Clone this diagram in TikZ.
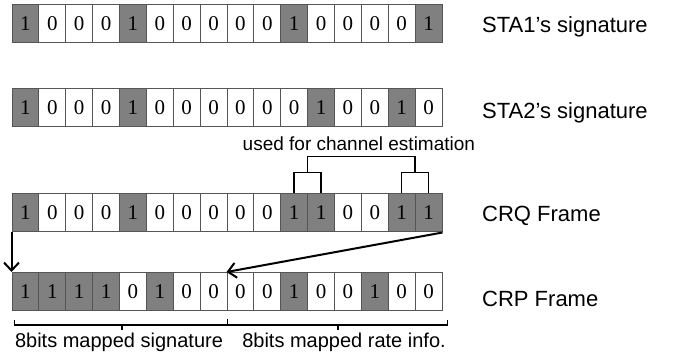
\documentclass[tikz,border=0pt]{standalone}
\usepackage{fontspec}
\setmainfont{Liberation Sans}
\newfontfamily\bitfont{Liberation Serif}
\usetikzlibrary{positioning,arrows.meta}

\definecolor{bitgray}{RGB}{128,128,128}
\definecolor{edgegray}{RGB}{85,85,85}

\tikzset{
  bit/.style={draw=edgegray, line width=1pt, minimum width=26.875pt,
    minimum height=38pt, inner sep=0pt, font=\bitfont\fontsize{21}{21}\selectfont},
  bit1/.style={bit, fill=bitgray},
  bit0/.style={bit, fill=white},
  lbl/.style={font=\fontsize{22}{24}\selectfont, inner sep=0pt, anchor=base west},
  note/.style={font=\fontsize{20}{22}\selectfont, inner sep=0pt, anchor=base},
  brk/.style={line width=1.6pt},
  arr/.style={line width=2pt, -{Straight Barb[length=8pt,width=15pt]}}
}

\begin{document}
\begin{tikzpicture}[x=1pt,y=-1pt]
\useasboundingbox (0,0) rectangle (686,355);

% the four bit rows
\foreach \b [count=\i] in {1,0,0,0,1,0,0,0,0,0,1,0,0,0,0,1}
  \node[bit\b] (sa\i) at ({12+(\i-0.5)*26.875},23.8) {\b};
\foreach \b [count=\i] in {1,0,0,0,1,0,0,0,0,0,0,1,0,0,1,0}
  \node[bit\b] (sb\i) at ({12+(\i-0.5)*26.875},107.5) {\b};
\foreach \b [count=\i] in {1,0,0,0,1,0,0,0,0,0,1,1,0,0,1,1}
  \node[bit\b] (crq\i) at ({12+(\i-0.5)*26.875},213) {\b};
\foreach \b [count=\i] in {1,1,1,1,0,1,0,0,0,0,1,0,0,1,0,0}
  \node[bit\b] (crp\i) at ({12+(\i-0.5)*26.875},291.5) {\b};

% row labels
\node[lbl] (la) at (482,33) {STA1’s signature};
\node[lbl] (lb) at (482,118.5) {STA2’s signature};
\node[lbl] (lc) at (482,222) {CRQ Frame};
\node[lbl] (ld) at (482,307) {CRP Frame};

% channel estimation brackets
\path (crq11.north) ++(13.44,-21) coordinate (ce1);
\path (crq15.north) ++(13.44,-21) coordinate (ce2);
\path (ce1) ++(53.75,-16) coordinate (ce3);
\draw[brk] (crq11.north) |- (ce1) -| (crq12.north);
\draw[brk] (crq15.north) |- (ce2) -| (crq16.north);
\draw[brk] (ce1) |- (ce3) -| (ce2);
\node[note, anchor=south, above=5.5pt of ce3, xshift=-2.5pt,
  font=\fontsize{19}{20}\selectfont] (est) {used for channel estimation};

% arrows CRQ -> CRP
\draw[arr] (crq1.south west) -- (crp1.north west);
\draw[arr] (crq16.south east) -- (crp9.north west);

% bottom brackets
\path (crp1.south west) ++(3,9) coordinate (gl);
\path (crp8.south east) ++(0,8) coordinate (gm);
\path (crp16.south east) ++(5,9) coordinate (gr);
\path (122,324) coordinate (ta);
\path (338,324) coordinate (tb);
\draw[brk] (gl) -- ++(0,5) -| (gm);
\draw[brk] (gm) -- ++(0,6) -| (gr);
\draw[brk] (ta) -- ++(0,6);
\draw[brk] (tb) -- ++(0,6);
\node[note] (sig) at (119,348) {8bits mapped signature};
\node[note] (rate) at (344,348) {8bits mapped rate info.};
\end{tikzpicture}
\end{document}
